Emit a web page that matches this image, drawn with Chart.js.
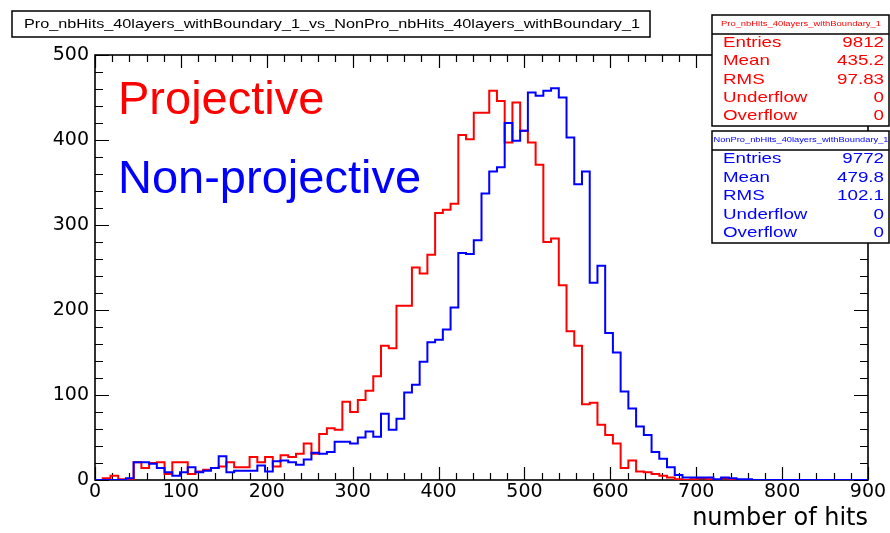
<!DOCTYPE html>
<html>
<head>
<meta charset="utf-8">
<script src="https://cdn.jsdelivr.net/npm/chart.js@4/dist/chart.umd.min.js"></script>
<style>
  html, body { margin: 0; padding: 0; background: #fff; }
  #wrap { width: 890px; height: 533px; }
</style>
</head>
<body>
<div id="wrap"><canvas id="c" width="890" height="533"></canvas></div>
<script>
// Histogram binning: 100 bins of 9 hits over [0, 900]
const xMin = 0;
const xMax = 900;
const binWidth = 9;

// Bin contents, projective geometry
const projective = [
  0, 2, 5, 1, 1, 21, 14, 20, 21, 7,
  21, 21, 7, 10, 12, 14, 16, 21, 15, 15,
  27, 21, 27, 16, 29, 27, 31, 43, 31, 54,
  61, 59, 92, 80, 94, 105, 122, 158, 155, 205,
  205, 250, 243, 265, 314, 318, 325, 406, 401, 432,
  432, 458, 446, 397, 444, 411, 397, 371, 280, 284,
  229, 175, 158, 89, 91, 65, 53, 43, 14, 23,
  10, 9, 7, 5, 3, 1, 0, 1, 2, 1,
  0, 2, 0, 0, 0, 0, 0, 0, 0, 0,
  0, 0, 0, 0, 0, 0, 0, 0, 0, 0
];

// Bin contents, non-projective geometry
const nonProjective = [
  0, 0, 0, 0, 2, 21, 21, 19, 14, 9,
  5, 9, 15, 9, 11, 14, 28, 9, 11, 11,
  11, 17, 10, 22, 23, 21, 18, 24, 32, 31,
  33, 45, 45, 43, 50, 57, 51, 78, 59, 72,
  103, 112, 139, 162, 165, 177, 203, 267, 266, 282,
  337, 363, 368, 420, 399, 411, 456, 452, 458, 461,
  450, 403, 348, 363, 232, 252, 173, 150, 104, 84,
  63, 53, 33, 25, 15, 6, 3, 3, 3, 3,
  1, 3, 2, 1, 1, 0, 0, 0, 0, 0,
  0, 0, 0, 0, 0, 0, 0, 0, 0, 0
];

// Axis tick labels
const xTickValues = [0, 100, 200, 300, 400, 500, 600, 700, 800, 900];
const yTickValues = [0, 100, 200, 300, 400, 500];
const xMinorStep = 20;
const yMinorStep = 20;

// Titles and statistics boxes
const histTitle = 'Pro_nbHits_40layers_withBoundary_1_vs_NonPro_nbHits_40layers_withBoundary_1';
const xAxisTitle = 'number of hits';
const seriesNames = ['Projective', 'Non-projective'];
const statTitles = ['Pro_nbHits_40layers_withBoundary_1', 'NonPro_nbHits_40layers_withBoundary_1'];
const statLabels = ['Entries', 'Mean', 'RMS', 'Underflow', 'Overflow'];
const statValuesPro = ['9812', '435.2', '97.83', '0', '0'];
const statValuesNonPro = ['9772', '479.8', '102.1', '0', '0'];

const RED = '#ff0000';
const BLUE = '#0000ff';

// Step outline: one point at each bin's low edge, plus the closing edge
function histPoints(counts) {
  const pts = counts.map((v, k) => ({ x: xMin + k * binWidth, y: v }));
  pts.push({ x: xMin + counts.length * binWidth, y: 0 });
  return pts;
}

// Text drawn with a horizontal stretch (ROOT-style wide lettering)
function wideText(ctx, text, x, y, font, color, align, sx) {
  ctx.save();
  ctx.font = font;
  ctx.fillStyle = color;
  ctx.textBaseline = 'middle';
  ctx.textAlign = 'left';
  const w = ctx.measureText(text).width * sx;
  const x0 = align === 'right' ? x - w : (align === 'center' ? x - w / 2 : x);
  ctx.translate(x0, y);
  ctx.scale(sx, 1);
  ctx.fillText(text, 0, 0);
  ctx.restore();
}

// Same, but stretched to span a given width
function fitText(ctx, text, cx, y, font, color, width) {
  ctx.save();
  ctx.font = font;
  const sx = width / ctx.measureText(text).width;
  ctx.restore();
  wideText(ctx, text, cx, y, font, color, 'center', sx);
}

const frameAndTicks = {
  id: 'frameAndTicks',
  beforeDatasetsDraw(chart) {
    const { ctx, chartArea: a, scales: { x, y } } = chart;
    ctx.save();
    ctx.strokeStyle = '#000';
    ctx.lineWidth = 1.2;
    ctx.beginPath();
    for (let v = xMin; v <= xMax; v += xMinorStep) {
      const px = Math.round(x.getPixelForValue(v)) + 0.5;
      const len = v % 100 === 0 ? 13 : 7;
      ctx.moveTo(px, a.bottom); ctx.lineTo(px, a.bottom - len);
      ctx.moveTo(px, a.top); ctx.lineTo(px, a.top + len);
    }
    for (let v = 0; v <= 500; v += yMinorStep) {
      const py = Math.round(y.getPixelForValue(v)) + 0.5;
      const len = v % 100 === 0 ? 14 : 8;
      ctx.moveTo(a.left, py); ctx.lineTo(a.left + len, py);
      ctx.moveTo(a.right, py); ctx.lineTo(a.right - len, py);
    }
    ctx.stroke();
    ctx.lineWidth = 1.6;
    ctx.strokeRect(a.left, a.top, a.right - a.left, a.bottom - a.top);
    ctx.restore();
  },
  afterDraw(chart) {
    const ctx = chart.ctx;
    const font = "'Liberation Sans', Arial, sans-serif";

    // Series labels
    ctx.save();
    ctx.textBaseline = 'alphabetic';
    ctx.textAlign = 'left';
    ctx.font = '47px ' + font;
    ctx.fillStyle = RED;
    ctx.fillText(seriesNames[0], 118, 114);
    ctx.fillStyle = BLUE;
    ctx.fillText(seriesNames[1], 118, 193);
    ctx.restore();

    // Histogram title box
    ctx.save();
    ctx.fillStyle = '#fff';
    ctx.fillRect(12, 11, 638, 26);
    ctx.strokeStyle = '#000';
    ctx.lineWidth = 1.5;
    ctx.strokeRect(12, 11, 638, 26);
    ctx.restore();
    fitText(ctx, histTitle, 332, 24, '13px ' + font, '#000', 616);

    // Statistics boxes
    const boxes = [
      { top: 15, bottom: 126, color: RED, title: statTitles[0], values: statValuesPro },
      { top: 131, bottom: 243, color: BLUE, title: statTitles[1], values: statValuesNonPro }
    ];
    boxes.forEach(b => {
      const left = 712, right = 889, div = b.top + 19;
      ctx.save();
      ctx.fillStyle = '#fff';
      ctx.fillRect(left, b.top, right - left, b.bottom - b.top);
      ctx.strokeStyle = '#000';
      ctx.lineWidth = 1.5;
      ctx.strokeRect(left, b.top, right - left, b.bottom - b.top);
      ctx.beginPath();
      ctx.moveTo(left, div); ctx.lineTo(right, div);
      ctx.stroke();
      ctx.restore();
      const tw = b === boxes[0] ? 160 : 175;
      fitText(ctx, b.title, 801, b.top + 9, '8px ' + font, b.color, tw);
      const rowH = (b.bottom - div) / 5;
      statLabels.forEach((lab, i) => {
        const cy = div + rowH * (i + 0.5) - 0.5;
        wideText(ctx, lab, 723, cy, '15px ' + font, b.color, 'left', 1.25);
        wideText(ctx, b.values[i], 884, cy, '15px ' + font, b.color, 'right', 1.25);
      });
    });
  }
};

new Chart(document.getElementById('c'), {
  type: 'line',
  data: {
    datasets: [
      {
        label: seriesNames[0],
        data: histPoints(projective),
        borderColor: RED,
        borderWidth: 2,
        stepped: true,
        pointRadius: 0,
        fill: false,
        order: 2
      },
      {
        label: seriesNames[1],
        data: histPoints(nonProjective),
        borderColor: BLUE,
        borderWidth: 2,
        stepped: true,
        pointRadius: 0,
        fill: false,
        order: 1
      }
    ]
  },
  options: {
    responsive: false,
    animation: false,
    devicePixelRatio: 1,
    layout: { padding: { top: 55, right: 22, left: 0, bottom: 0 } },
    plugins: { legend: { display: false }, tooltip: { enabled: false }, title: { display: false } },
    scales: {
      x: {
        type: 'linear',
        min: xMin,
        max: xMax,
        afterFit(s) { s.height = 53; },
        afterBuildTicks(s) { s.ticks = xTickValues.map(v => ({ value: v })); },
        grid: { display: false, drawTicks: false },
        border: { display: false },
        ticks: {
          padding: 1,
          maxRotation: 0,
          autoSkip: false,
          color: '#000',
          font: { family: "'DejaVu Sans', sans-serif", size: 19 }
        },
        title: {
          display: true,
          text: xAxisTitle,
          align: 'end',
          color: '#000',
          padding: { top: 0, bottom: 0 },
          font: { family: "'DejaVu Sans', sans-serif", size: 24 }
        }
      },
      y: {
        type: 'linear',
        min: 0,
        max: 500,
        afterFit(s) { s.width = 95; },
        afterBuildTicks(s) { s.ticks = yTickValues.map(v => ({ value: v })); },
        grid: { display: false, drawTicks: false },
        border: { display: false },
        ticks: {
          padding: 6,
          color: '#000',
          font: { family: "'DejaVu Sans', sans-serif", size: 19 }
        }
      }
    }
  },
  plugins: [frameAndTicks]
});
</script>
</body>
</html>
